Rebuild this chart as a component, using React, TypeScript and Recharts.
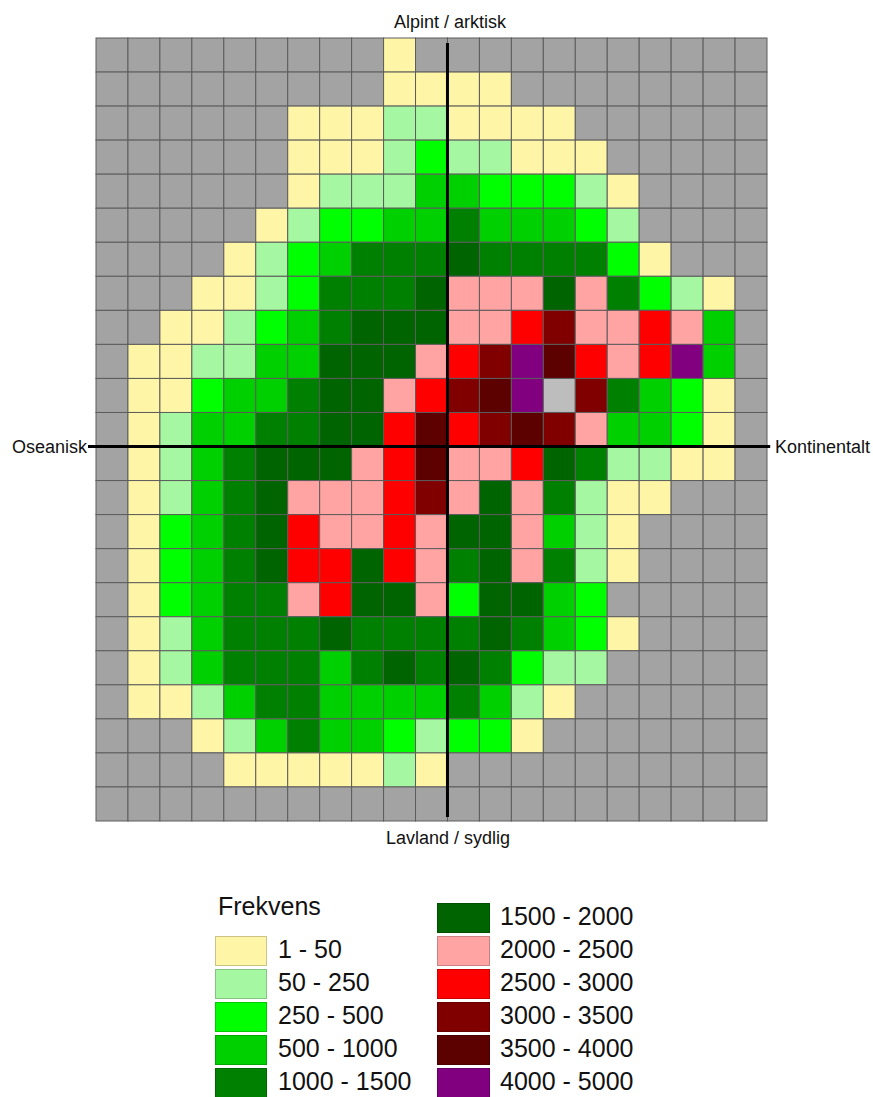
import { ReferenceLine, Scatter, ScatterChart, XAxis, YAxis } from "recharts";

// frequency class per cell, row 0 = top (alpint), col 0 = left (oseanisk)
// 0 = ingen data, 1..11 = classes in the legend, 12 = lys grå celle
const grid: number[][] = [
  [0, 0, 0, 0, 0, 0, 0, 0, 0, 1, 0, 0, 0, 0, 0, 0, 0, 0, 0, 0, 0],
  [0, 0, 0, 0, 0, 0, 0, 0, 0, 1, 1, 1, 1, 0, 0, 0, 0, 0, 0, 0, 0],
  [0, 0, 0, 0, 0, 0, 1, 1, 1, 2, 2, 1, 1, 1, 1, 0, 0, 0, 0, 0, 0],
  [0, 0, 0, 0, 0, 0, 1, 1, 1, 2, 3, 2, 2, 1, 1, 1, 0, 0, 0, 0, 0],
  [0, 0, 0, 0, 0, 0, 1, 2, 2, 2, 4, 4, 3, 3, 3, 2, 1, 0, 0, 0, 0],
  [0, 0, 0, 0, 0, 1, 2, 3, 3, 4, 4, 5, 4, 4, 4, 3, 2, 0, 0, 0, 0],
  [0, 0, 0, 0, 1, 2, 3, 4, 5, 5, 5, 6, 5, 5, 5, 5, 3, 1, 0, 0, 0],
  [0, 0, 0, 1, 1, 2, 3, 5, 5, 5, 6, 7, 7, 7, 6, 7, 5, 3, 2, 1, 0],
  [0, 0, 1, 1, 2, 3, 4, 5, 6, 6, 6, 7, 7, 8, 9, 7, 7, 8, 7, 4, 0],
  [0, 1, 1, 2, 2, 4, 4, 6, 6, 6, 7, 8, 9, 11, 10, 8, 7, 8, 11, 4, 0],
  [0, 1, 1, 3, 4, 4, 5, 6, 6, 7, 8, 9, 10, 11, 12, 9, 5, 4, 3, 1, 0],
  [0, 1, 2, 4, 4, 5, 5, 6, 6, 8, 10, 8, 9, 10, 9, 7, 4, 4, 3, 1, 0],
  [0, 1, 2, 4, 5, 6, 6, 6, 7, 8, 10, 7, 7, 8, 6, 5, 2, 2, 1, 1, 0],
  [0, 1, 2, 4, 5, 6, 7, 7, 7, 8, 9, 7, 6, 7, 5, 2, 1, 1, 0, 0, 0],
  [0, 1, 3, 4, 5, 6, 8, 7, 7, 8, 7, 6, 6, 7, 4, 2, 1, 0, 0, 0, 0],
  [0, 1, 3, 4, 5, 6, 8, 8, 6, 8, 7, 5, 6, 7, 5, 2, 1, 0, 0, 0, 0],
  [0, 1, 3, 4, 5, 5, 7, 8, 6, 6, 7, 3, 6, 6, 4, 3, 0, 0, 0, 0, 0],
  [0, 1, 2, 4, 5, 5, 5, 6, 5, 5, 5, 5, 6, 5, 4, 3, 1, 0, 0, 0, 0],
  [0, 1, 2, 4, 5, 5, 5, 4, 5, 6, 5, 6, 5, 3, 2, 2, 0, 0, 0, 0, 0],
  [0, 1, 1, 2, 4, 5, 5, 4, 4, 4, 4, 5, 4, 2, 1, 0, 0, 0, 0, 0, 0],
  [0, 0, 0, 1, 2, 4, 5, 4, 4, 3, 2, 3, 3, 1, 0, 0, 0, 0, 0, 0, 0],
  [0, 0, 0, 0, 1, 1, 1, 1, 1, 2, 1, 0, 0, 0, 0, 0, 0, 0, 0, 0, 0],
  [0, 0, 0, 0, 0, 0, 0, 0, 0, 0, 0, 0, 0, 0, 0, 0, 0, 0, 0, 0, 0],
];

const classLabels = [
  "1 - 50",
  "50 - 250",
  "250 - 500",
  "500 - 1000",
  "1000 - 1500",
  "1500 - 2000",
  "2000 - 2500",
  "2500 - 3000",
  "3000 - 3500",
  "3500 - 4000",
  "4000 - 5000",
];

const axisTitles = {
  top: "Alpint / arktisk",
  bottom: "Lavland / sydlig",
  left: "Oseanisk",
  right: "Kontinentalt",
};

// colours, index = class (0 no data, 12 light grey)
const fills = [
  "#a3a3a3",
  "#fff5a6",
  "#a6f7a1",
  "#00ff00",
  "#00d000",
  "#008000",
  "#006400",
  "#ffa3a3",
  "#ff0000",
  "#800000",
  "#5c0000",
  "#800080",
  "#bdbdbd",
];

const ROWS = grid.length;
const COLS = grid[0].length;
const PLOT_W = 671;
const PLOT_H = 783;
const CELL_W = PLOT_W / COLS;
const CELL_H = PLOT_H / ROWS;
const MARGIN = { top: 38, right: 106, bottom: 39, left: 96 };

const cells = grid.flatMap((row, r) =>
  row.map((klasse, c) => ({ x: c + 0.5, y: r + 0.5, klasse })),
);

const CellShape = (props: any) => {
  const { cx, cy, payload } = props;
  return (
    <rect
      x={cx - CELL_W / 2}
      y={cy - CELL_H / 2}
      width={CELL_W}
      height={CELL_H}
      fill={fills[payload.klasse]}
      stroke="#5c5c5c"
      strokeWidth={1}
    />
  );
};

const font = "'Liberation Sans', Arial, sans-serif";

const label = (left: number, top: number, text: string, center = false) => (
  <div
    style={{
      position: "absolute",
      left,
      top,
      fontSize: 18,
      lineHeight: "18px",
      whiteSpace: "nowrap",
      transform: center ? "translateX(-50%)" : undefined,
      color: "#111",
    }}
  >
    {text}
  </div>
);

// the two axis cross lines, drawn in a transparent chart on top of the cells
const CrossLines = () => (
  <ScatterChart width={873} height={860} margin={MARGIN}>
    <XAxis type="number" dataKey="x" domain={[0, COLS]} hide />
    <YAxis type="number" dataKey="y" domain={[0, ROWS]} reversed hide />
    <Scatter data={cells} shape={() => <g />} isAnimationActive={false} />
    <ReferenceLine
      segment={[
        { x: 11, y: 0.15 },
        { x: 11, y: 22.88 },
      ]}
      stroke="#000"
      strokeWidth={3}
      ifOverflow="visible"
    />
    <ReferenceLine
      segment={[
        { x: -0.25, y: 12 },
        { x: 21.1, y: 12 },
      ]}
      stroke="#000"
      strokeWidth={3}
      ifOverflow="visible"
    />
  </ScatterChart>
);

export default function App() {
  const leftCol = classLabels.slice(0, 5);
  const rightCol = classLabels.slice(5);
  return (
    <div
      style={{
        position: "relative",
        width: 873,
        height: 1097,
        overflow: "hidden",
        background: "#fff",
        fontFamily: font,
      }}
    >
      <style>{"body{margin:0}"}</style>
      <div style={{ position: "absolute", left: 0, top: 0 }}>
        <ScatterChart width={873} height={860} margin={MARGIN}>
          <XAxis type="number" dataKey="x" domain={[0, COLS]} hide />
          <YAxis type="number" dataKey="y" domain={[0, ROWS]} reversed hide />
          <Scatter data={cells} shape={CellShape} isAnimationActive={false} />
        </ScatterChart>
      </div>
      <div style={{ position: "absolute", left: 0, top: 0 }}>
        <CrossLines />
      </div>

      {label(450, 13, axisTitles.top, true)}
      {label(448, 829, axisTitles.bottom, true)}
      {label(12, 438, axisTitles.left)}
      {label(775, 438, axisTitles.right)}

      <div
        style={{
          position: "absolute",
          left: 218,
          top: 894,
          fontSize: 25,
          lineHeight: "25px",
          color: "#111",
        }}
      >
        Frekvens
      </div>
      {leftCol.map((txt, i) => (
        <div
          key={txt}
          style={{ position: "absolute", left: 215, top: 936 + 33 * i }}
        >
          <div
            style={{
              position: "absolute",
              left: 0,
              top: 0,
              width: 52,
              height: 30,
              background: fills[i + 1],
              boxShadow: "inset 0 0 0 1px rgba(0,0,0,0.2)",
            }}
          />
          <div
            style={{
              position: "absolute",
              left: 63,
              top: 0,
              fontSize: 25,
              lineHeight: "26px",
              whiteSpace: "nowrap",
              color: "#111",
            }}
          >
            {txt}
          </div>
        </div>
      ))}
      {rightCol.map((txt, i) => (
        <div
          key={txt}
          style={{ position: "absolute", left: 437, top: 903 + 33 * i }}
        >
          <div
            style={{
              position: "absolute",
              left: 0,
              top: 0,
              width: 53,
              height: 30,
              background: fills[i + 6],
              boxShadow: "inset 0 0 0 1px rgba(0,0,0,0.2)",
            }}
          />
          <div
            style={{
              position: "absolute",
              left: 63,
              top: 0,
              fontSize: 25,
              lineHeight: "26px",
              whiteSpace: "nowrap",
              color: "#111",
            }}
          >
            {txt}
          </div>
        </div>
      ))}
    </div>
  );
}
